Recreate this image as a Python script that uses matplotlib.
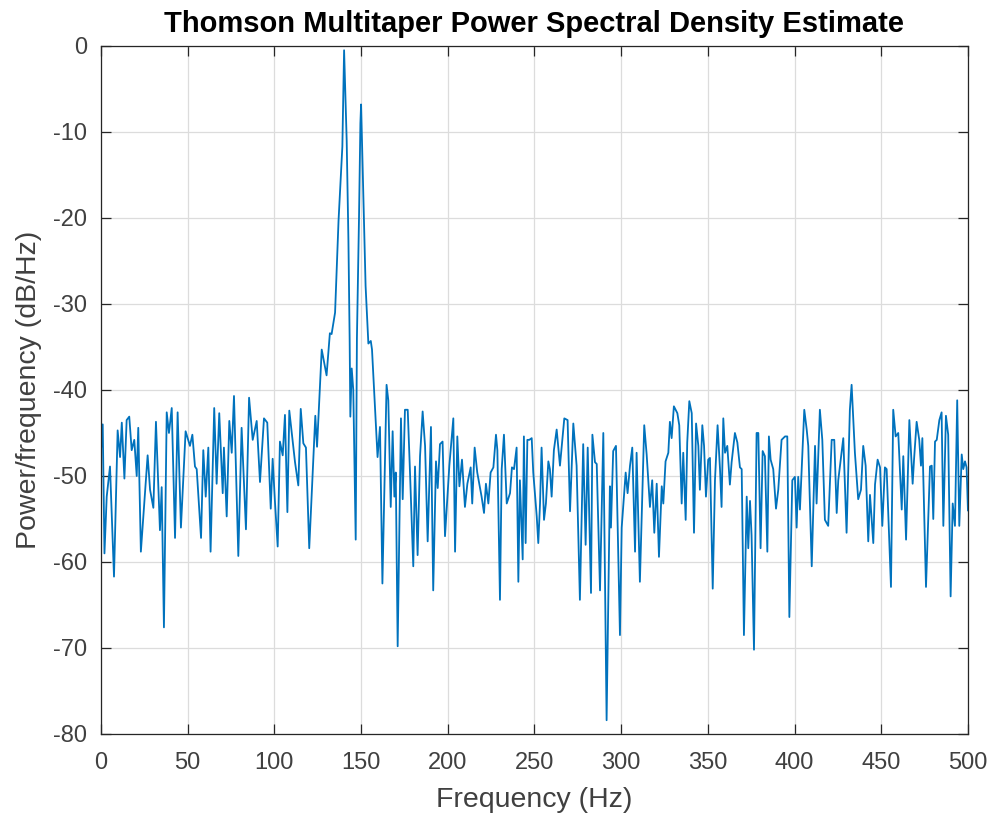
import matplotlib
matplotlib.use("Agg")
import matplotlib.pyplot as plt

freq_hz = [
    0, 1, 2, 3.3, 5.2, 7.5, 9.6, 11, 12, 13.5, 14.8, 16.3, 17.7, 19.2, 20.6, 21.5,
    23, 26.9, 28.3, 30.2, 31.7, 34, 35, 36.3, 37.9, 39.2, 40.8, 42.7, 44.2, 46.1,
    48.8, 51.3, 52.7, 54.2, 55.2, 57.7, 59, 60.4, 61.9, 63.2, 65.3,
    66.7, 68.2, 70.2, 70.9, 72.5, 74, 75.4, 76.7, 79.2, 81.1, 83.6, 85.4, 87.5,
    89.8, 91.7, 94, 95.9, 97.9, 99, 100.3, 101.9, 103.2, 104.8, 106.1, 107.5,
    108.6, 110, 111.9, 113.8, 115.2, 116.7, 118.2, 120.1, 122.8,
    123.6, 124.6, 127.3, 130.1, 132, 133, 135, 137, 139.2, 140.2, 141.7, 142.7,
    143.4, 143.8, 144.6, 145.5, 146.9, 147.6, 148.8, 149.6, 150.0, 151.3, 152.6,
    154.2, 155.6, 156.3, 159.5, 160.9, 162.3, 164.7, 165.7, 167.1, 168.2, 169.2,
    170, 171.1, 173, 174, 175.3, 176.9, 178.2, 180.1, 181.1, 182.6, 184, 185.5,
    186.9, 188.4, 190.3, 191.6, 193.2, 194.2, 195.5,
    197, 198.4, 200.9, 203.2, 204.2, 205.5, 206.7, 208.2, 209.9, 211.3, 213.2,
    214.1, 215.5, 217, 218.6, 219.5, 220.9, 222, 223.4, 224.7, 226.3, 227.8,
    228.6, 230.1, 231.1, 232.4, 234, 235.9, 237, 238.2, 239.7, 240.7, 241.6,
    243.2, 243.9, 244.9, 245.9, 247, 248.4, 249.3, 251.3, 252.2, 253.2, 254.1,
    255.5, 256.6, 258, 258.9, 259.9, 261.2,
    262.8, 264.7, 267.2, 269.1, 270.5, 272.4, 274.3, 276.2, 278.1, 279.5, 280.7,
    282.6, 283.4, 284.9, 285.9, 287.8, 289.7, 291.6, 293.5, 294.1, 295.4, 297,
    299.3, 300.3, 302.6, 303.7, 305.1, 306.4, 308, 308.9, 310.8, 313.3, 314.7,
    316.6, 317.9, 319.1, 320.5, 321.8, 323.4, 324.3, 325.6, 327.2, 328.1, 329.1,
    330.4,
    332.4, 333.5, 334.9, 335.8, 337.2, 338.1, 339.3, 340.7, 342, 343.2, 344.5,
    345.4, 346.8, 347.8, 348.9, 350.2, 351.2, 352.8, 354.1, 355.6, 357, 357.9,
    358.9, 359.9, 361.2, 362.7, 363.7, 365.6, 367, 368.5, 369.5, 370.8, 372.4,
    373.3, 374.3, 375.2, 376.6, 378.1, 379.1, 380.4, 381.6, 382.9, 384.3, 385.2,
    386.2, 387.7, 389.3, 390.6, 392.5, 394.5, 395.8, 397,
    398.7, 400.2, 401.2, 402.1, 403.1, 405.6, 407, 407.9, 409.9, 411.8, 412.7,
    414.6, 416, 417.5, 419.4, 421.4, 422.9, 424.3, 425.2, 428.1, 430, 431.9,
    432.9, 434.8, 436.7, 438.3, 439.6, 441, 442.5, 443.5, 445.4, 446.4, 447.9,
    449.3, 450.6, 452.1, 453.1, 455.6, 456.9, 458.3, 459.8,
    461.8, 462.7, 464.3, 466.2, 468.1, 468.9, 470.4, 471.9, 472.9, 473.7, 475.8,
    478.1, 479.1, 480, 481, 482, 483.5, 484.8, 485.8, 487.3, 488.6, 490, 491.2,
    492.5, 493.8, 495, 496.4, 497.3, 498.3, 499.2, 500,
]

psd_db = [
    -47, -44, -59, -52.4, -48.9, -61.7, -44.7, -47.8, -43.8, -50.3, -43.5, -43.1, -47, -45.8, -50, -44.4,
    -58.8, -47.6, -51.6, -53.7, -43.7, -56.3, -51.3, -67.6, -42.6, -45, -42.1, -57.2, -42.6, -56,
    -44.8, -46.5, -45.2, -48.9, -49.2, -57.2, -47, -52.4, -46.7, -58.8, -42.1,
    -50.9, -42.7, -52, -46.7, -54.7, -43.6, -47.3, -40.7, -59.3, -44.4, -56.2, -40.9, -45.8,
    -43.6, -50.7, -43.3, -43.8, -53.8, -48, -52.9, -58.2, -46, -47.6, -42.9, -54.2,
    -42.4, -44.9, -48.4, -51.1, -42.2, -46.2, -46.7, -58.4, -46.4,
    -43, -46.6, -35.3, -38.3, -33.4, -33.5, -31, -20.3, -11.7, -0.5, -11, -22.6,
    -34, -43.1, -37.5, -40, -57.4, -34, -20, -9, -6.8, -17.6, -27.9,
    -34.6, -34.3, -35.3, -47.8, -44.3, -62.5, -39.4, -41.2, -53.6, -44.8, -52.4,
    -49.6, -69.8, -43.3, -52.7, -42.3, -42.3, -49.5, -60.5, -48.9, -59.2, -47.7, -42.5,
    -46.5, -57.6, -44.3, -63.3, -48.3, -51.4, -46.3,
    -46, -57, -48.8, -43.3, -58.8, -45.4, -51.2, -48.1, -53.6, -50.9, -49,
    -53.2, -46.7, -49.6, -51.4, -52.4, -54.3, -50.9, -53.2, -49.6, -49, -45.2,
    -47, -64.4, -49.2, -45.2, -53.2, -52, -49, -49.2, -46.7, -62.3, -50.5,
    -59.7, -45.4, -57.8, -45.8, -45.8, -45.6, -49.6, -54.7, -57.8, -53.2, -46.7,
    -55.1, -53.2, -48.3, -49.2, -52.4, -47,
    -44.6, -48.8, -43.3, -43.5, -54.1, -43.9, -48.8, -64.4, -46.3, -58, -46.7,
    -63.6, -45.2, -48.4, -48.6, -63.3, -45, -78.4, -51.2, -56, -47.1, -46.5,
    -68.5, -56, -49.6, -52, -48.8, -46.7, -58.8, -47.3, -62.3, -44.1, -47.5,
    -53.6, -50.5, -56.6, -50.9, -59.4, -51.2, -53.2, -48.3, -47.3, -43.7, -45.6,
    -41.9,
    -42.7, -44.1, -53.2, -47.3, -55.1, -46.1, -41.3, -42.7, -56.6, -43.9, -46.5,
    -51.6, -44.1, -46.5, -52.4, -48.1, -47.9, -63.1, -50.5, -44.1, -49.2, -53.6,
    -43.3, -47.3, -46.5, -51, -48.4, -45, -46.1, -49, -49.2, -68.5, -52.4,
    -58.4, -52.9, -56.9, -70.2, -45, -45, -58.4, -47.1, -47.7, -58.8, -45.4,
    -48.1, -49.2, -53.8, -51.6, -45.8, -45.4, -45.4, -66.4,
    -50.5, -50.1, -56, -50.1, -53.9, -42.3, -44.6, -46.5, -60.5, -46.5, -53.2,
    -42.3, -45.8, -55.1, -55.8, -45.8, -45.8, -54.3, -50.5, -45.6, -56.6, -42.3,
    -39.4, -47.3, -52.7, -51.6, -46.5, -48.8, -57.6, -52.2, -57.8, -51, -48.1,
    -49, -55.8, -49, -49.2, -62.9, -42.3, -45.4, -45,
    -53.9, -47.7, -57.4, -43.5, -50.9, -48.1, -43.7, -45.8, -48.8, -45.6, -62.9,
    -48.9, -48.8, -55, -46, -45.8, -43.5, -42.6, -55.8, -43, -45.2, -64, -53.2,
    -55.8, -41.2, -55.8, -47.5, -49.2, -48.3, -49, -54,
]

x_ticks = [0, 50, 100, 150, 200, 250, 300, 350, 400, 450, 500]
y_ticks = [-80, -70, -60, -50, -40, -30, -20, -10, 0]

title_text = "Thomson Multitaper Power Spectral Density Estimate"
x_label = "Frequency (Hz)"
y_label = "Power/frequency (dB/Hz)"

plt.rcParams['font.family'] = ['Liberation Sans', 'DejaVu Sans']
plt.rcParams['axes.unicode_minus'] = False

fig = plt.figure(figsize=(9.94, 8.18), dpi=100)
ax = fig.add_axes([0.1016, 0.1027, 0.8722, 0.8411])

ax.plot(freq_hz, psd_db, color='#0072BD', linewidth=1.3)

ax.set_xlim(0, 500)
ax.set_ylim(-80, 0)
ax.set_xticks(x_ticks)
ax.set_yticks(y_ticks)
ax.grid(True, color='#dcdcdc', linewidth=0.9)
ax.set_axisbelow(True)

for s in ax.spines.values():
    s.set_color('#262626')
    s.set_linewidth(0.9)

ax.tick_params(direction='in', length=7, width=0.9, colors='#262626',
               top=True, right=True, labelsize=17, pad=10)
ax.tick_params(axis='x', pad=13)
for lab in ax.get_xticklabels() + ax.get_yticklabels():
    lab.set_color('#404040')

ax.set_title(title_text, fontsize=21, fontweight='bold', color='black', pad=10)
ax.set_xlabel(x_label, fontsize=20.5, color='#404040', labelpad=9)
ax.set_ylabel(y_label, fontsize=20.5, color='#404040', labelpad=8)

fig.savefig("out.png", dpi=100)
